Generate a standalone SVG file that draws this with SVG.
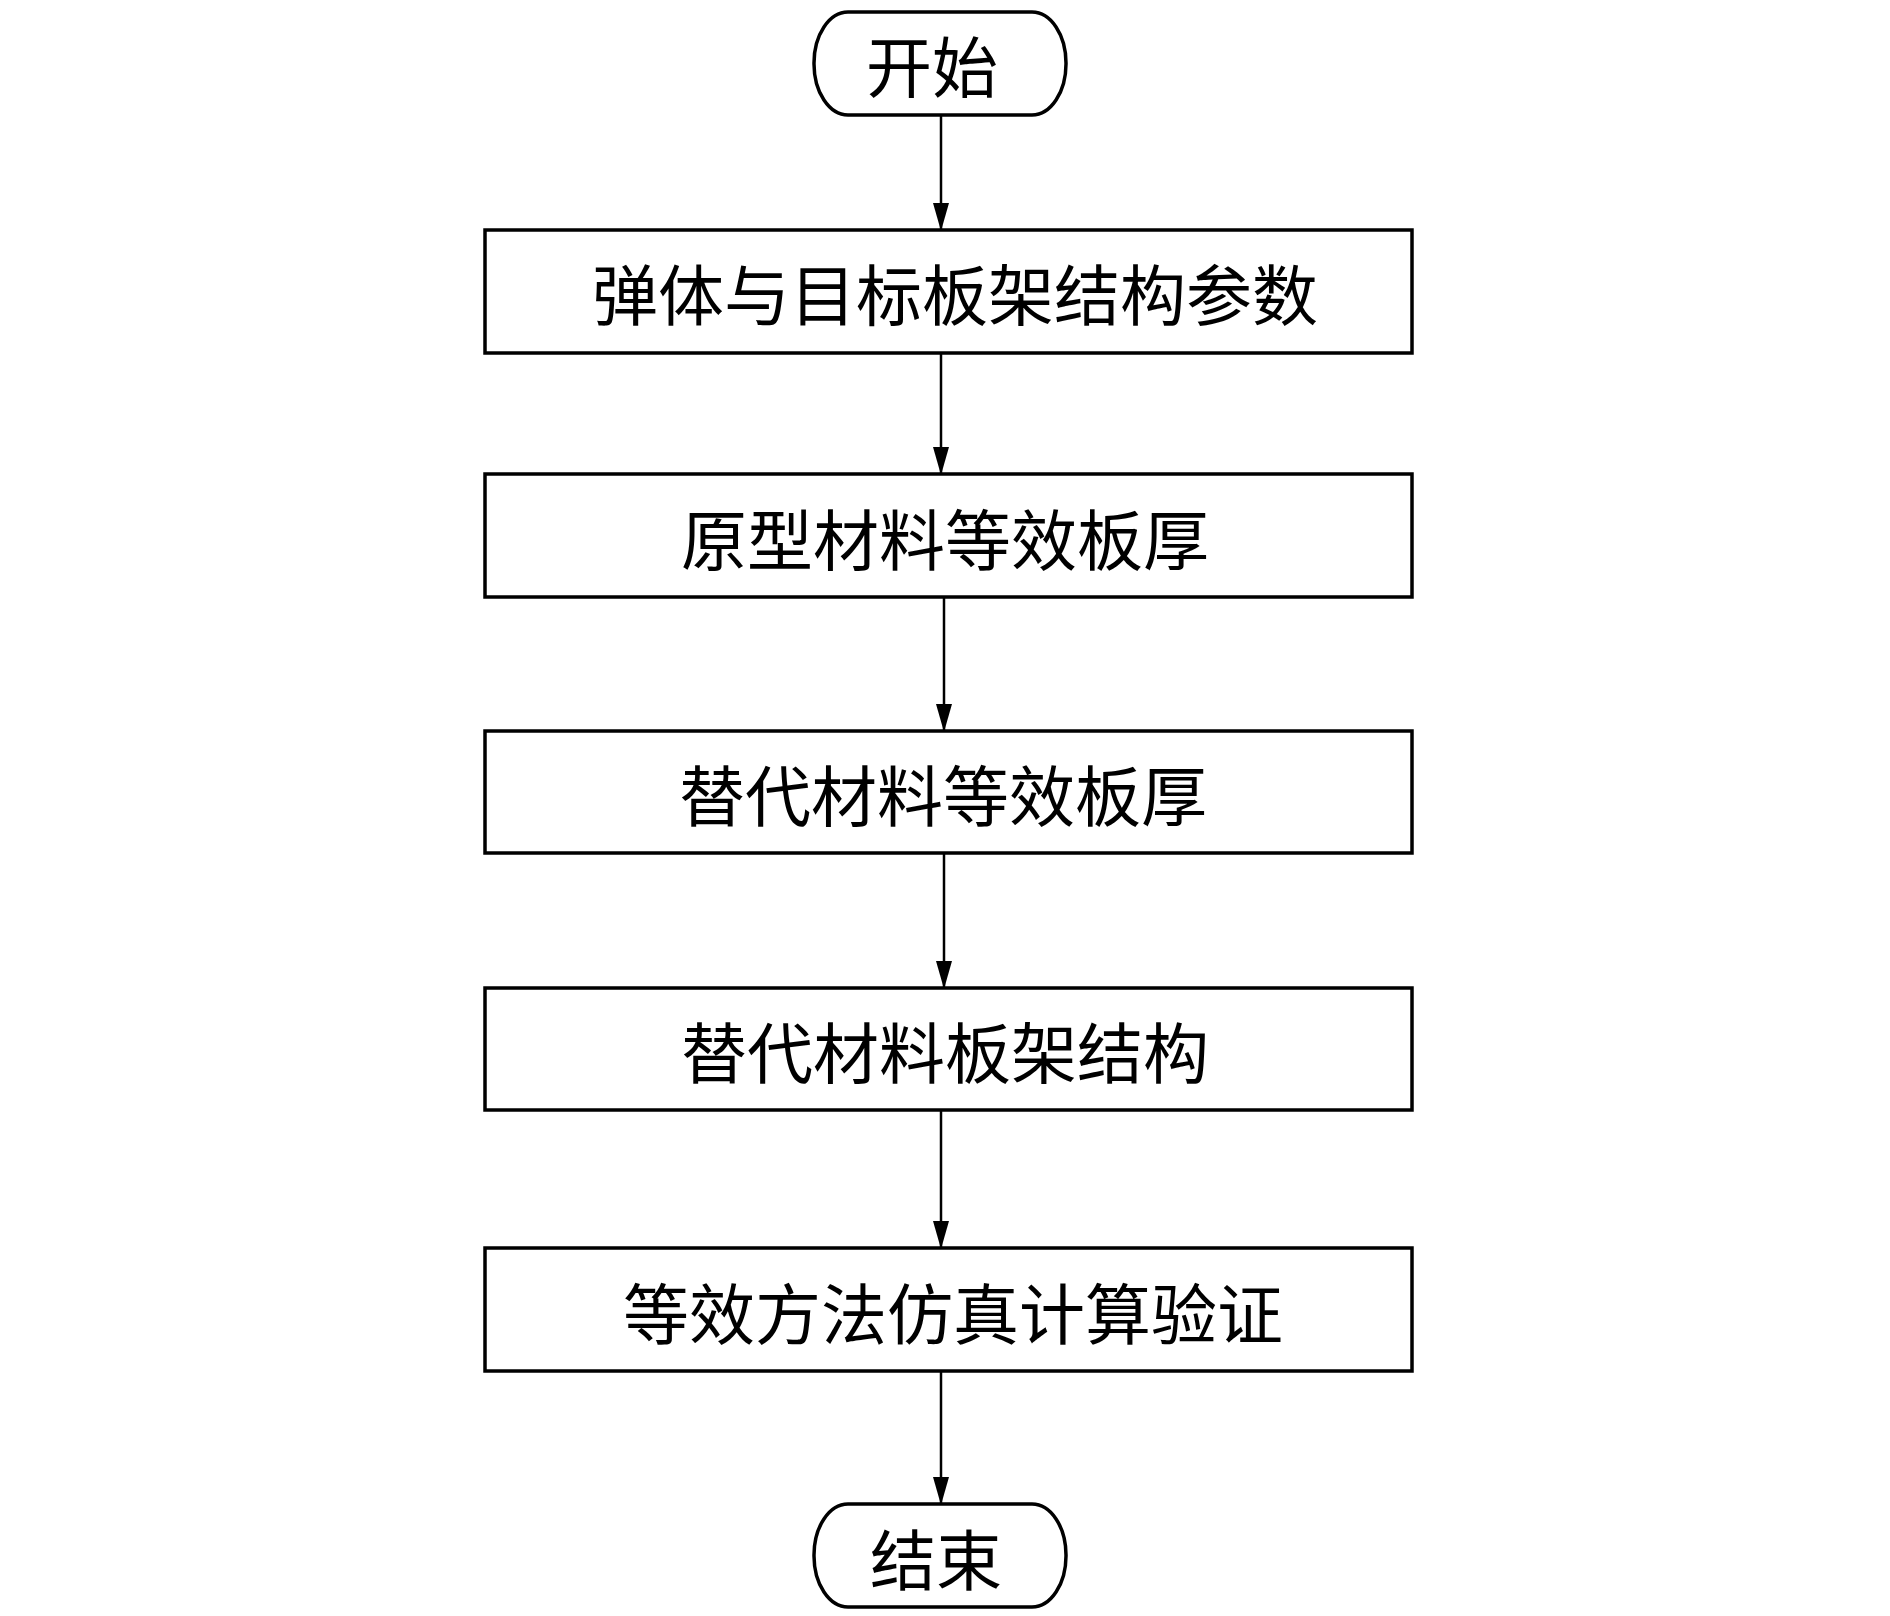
<svg xmlns="http://www.w3.org/2000/svg" width="1890" height="1616" viewBox="0 0 1890 1616">
<style>
.box{fill:#fff;stroke:#000;stroke-width:3.5}
.lbl{font-family:"Noto Sans CJK SC","Noto Sans CJK JP",sans-serif;font-size:66px;fill:#000;text-anchor:middle;dominant-baseline:central}
.conn{stroke:#000;stroke-width:2.5;fill:none;marker-end:url(#arr)}
</style>
<defs>
<marker id="arr" viewBox="0 0 28 16" refX="28" refY="8" markerWidth="28" markerHeight="16" markerUnits="userSpaceOnUse" orient="auto">
<path d="M0,0 L28,8 L0,16 Z" fill="#000"/>
</marker>
</defs>
<rect width="1890" height="1616" fill="#fff"/>
<g id="connectors">
<line class="conn" x1="941" y1="115" x2="941" y2="231"/>
<line class="conn" x1="941" y1="353" x2="941" y2="475"/>
<line class="conn" x1="944" y1="597" x2="944" y2="732"/>
<line class="conn" x1="944" y1="853" x2="944" y2="989"/>
<line class="conn" x1="941" y1="1110" x2="941" y2="1249"/>
<line class="conn" x1="941" y1="1371" x2="941" y2="1505"/>
</g>
<g id="start">
<rect class="box" x="814" y="12" width="252" height="103" rx="34" ry="51"/>
<text class="lbl" x="932" y="63">开始</text>
</g>
<g id="n1">
<rect class="box" x="485" y="230" width="927" height="123"/>
<text class="lbl" x="955" y="291">弹体与目标板架结构参数</text>
</g>
<g id="n2">
<rect class="box" x="485" y="474" width="927" height="123"/>
<text class="lbl" x="945" y="536">原型材料等效板厚</text>
</g>
<g id="n3">
<rect class="box" x="485" y="731" width="927" height="122"/>
<text class="lbl" x="943" y="792">替代材料等效板厚</text>
</g>
<g id="n4">
<rect class="box" x="485" y="988" width="927" height="122"/>
<text class="lbl" x="945" y="1049">替代材料板架结构</text>
</g>
<g id="n5">
<rect class="box" x="485" y="1248" width="927" height="123"/>
<text class="lbl" x="953" y="1310">等效方法仿真计算验证</text>
</g>
<g id="end">
<rect class="box" x="814" y="1504" width="252" height="103" rx="34" ry="51"/>
<text class="lbl" x="936" y="1556">结束</text>
</g>
</svg>
